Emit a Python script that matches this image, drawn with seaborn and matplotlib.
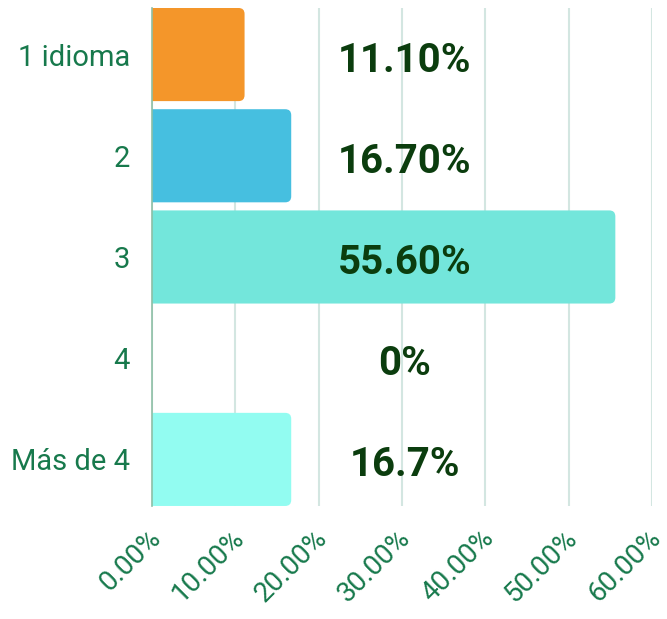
import pandas as pd
import numpy as np
import seaborn as sns
import matplotlib.pyplot as plt
import matplotlib.transforms as mtransforms
from matplotlib.patches import FancyBboxPatch

# Data
categories = ['1 idioma', '2', '3', '4', 'Más de 4']
values = [11.1, 16.7, 55.6, 0.0, 16.7]
value_labels = ['11.10%', '16.70%', '55.60%', '0%', '16.7%']
bar_colors = ['#F4962A', '#46BFE0', '#73E6DB', '#73E6DB', '#92FCF1']
xticks = [0, 10, 20, 30, 40, 50, 60]
xtick_labels = ['0.00%', '10.00%', '20.00%', '30.00%', '40.00%', '50.00%', '60.00%']

df = pd.DataFrame({'cat': categories, 'val': values})

sns.set_style('white')
plt.rcParams['font.family'] = ['Roboto', 'DejaVu Sans']

fig = plt.figure(figsize=(6.67, 6.19), dpi=100)
ax = fig.add_axes([0.228, 0.1826, 0.7495, 0.8045])

sns.barplot(data=df, y='cat', x='val', hue='cat', palette=bar_colors,
            saturation=1, legend=False, width=0.92, ax=ax, orient='h')

# swap plain bars for ones with rounded right corners
x_per_px = 60 / 500.0
y_per_px = 4.92 / 498.0
r = 6 * x_per_px
for p in list(ax.patches):
    x0, y0 = p.get_x(), p.get_y()
    w, h = p.get_width(), p.get_height()
    col = p.get_facecolor()
    p.remove()
    if w <= 0:
        continue
    fb = FancyBboxPatch((x0 - 2, y0), w + 2, h,
                        boxstyle=f'round,pad=0,rounding_size={r}',
                        mutation_aspect=y_per_px / x_per_px,
                        facecolor=col, edgecolor='none', zorder=2)
    ax.add_patch(fb)

ax.set_xlim(0, 60)
ax.set_ylim(4.46, -0.46)
ax.set_xticks(xticks)
ax.set_xticklabels(xtick_labels, rotation=45, ha='right', va='top',
                   rotation_mode='anchor', fontsize=20, color='#17794C')
ax.tick_params(axis='y', labelsize=21, labelcolor='#17794C', length=0, pad=16)
ax.tick_params(axis='x', length=0, pad=13)
ax.set_xlabel('')
ax.set_ylabel('')

# nudge rotated labels a bit left so the last one stays inside the figure
shift = mtransforms.ScaledTranslation(-5 / 100, 0, fig.dpi_scale_trans)
for lbl in ax.get_xticklabels():
    lbl.set_transform(lbl.get_transform() + shift)

ax.grid(axis='x', color='#D3E6E1', linewidth=1.5, zorder=0)
ax.set_axisbelow(True)
for s in ['top', 'right', 'bottom']:
    ax.spines[s].set_visible(False)
ax.spines['left'].set_color('#8DBFA6')
ax.spines['left'].set_linewidth(1.2)

for i, lab in enumerate(value_labels):
    ax.text(30.3, i + 0.06, lab, ha='center', va='center', fontsize=29,
            fontweight='bold', color='#0B3D0E', zorder=5)

fig.savefig('out.png', dpi=100)
